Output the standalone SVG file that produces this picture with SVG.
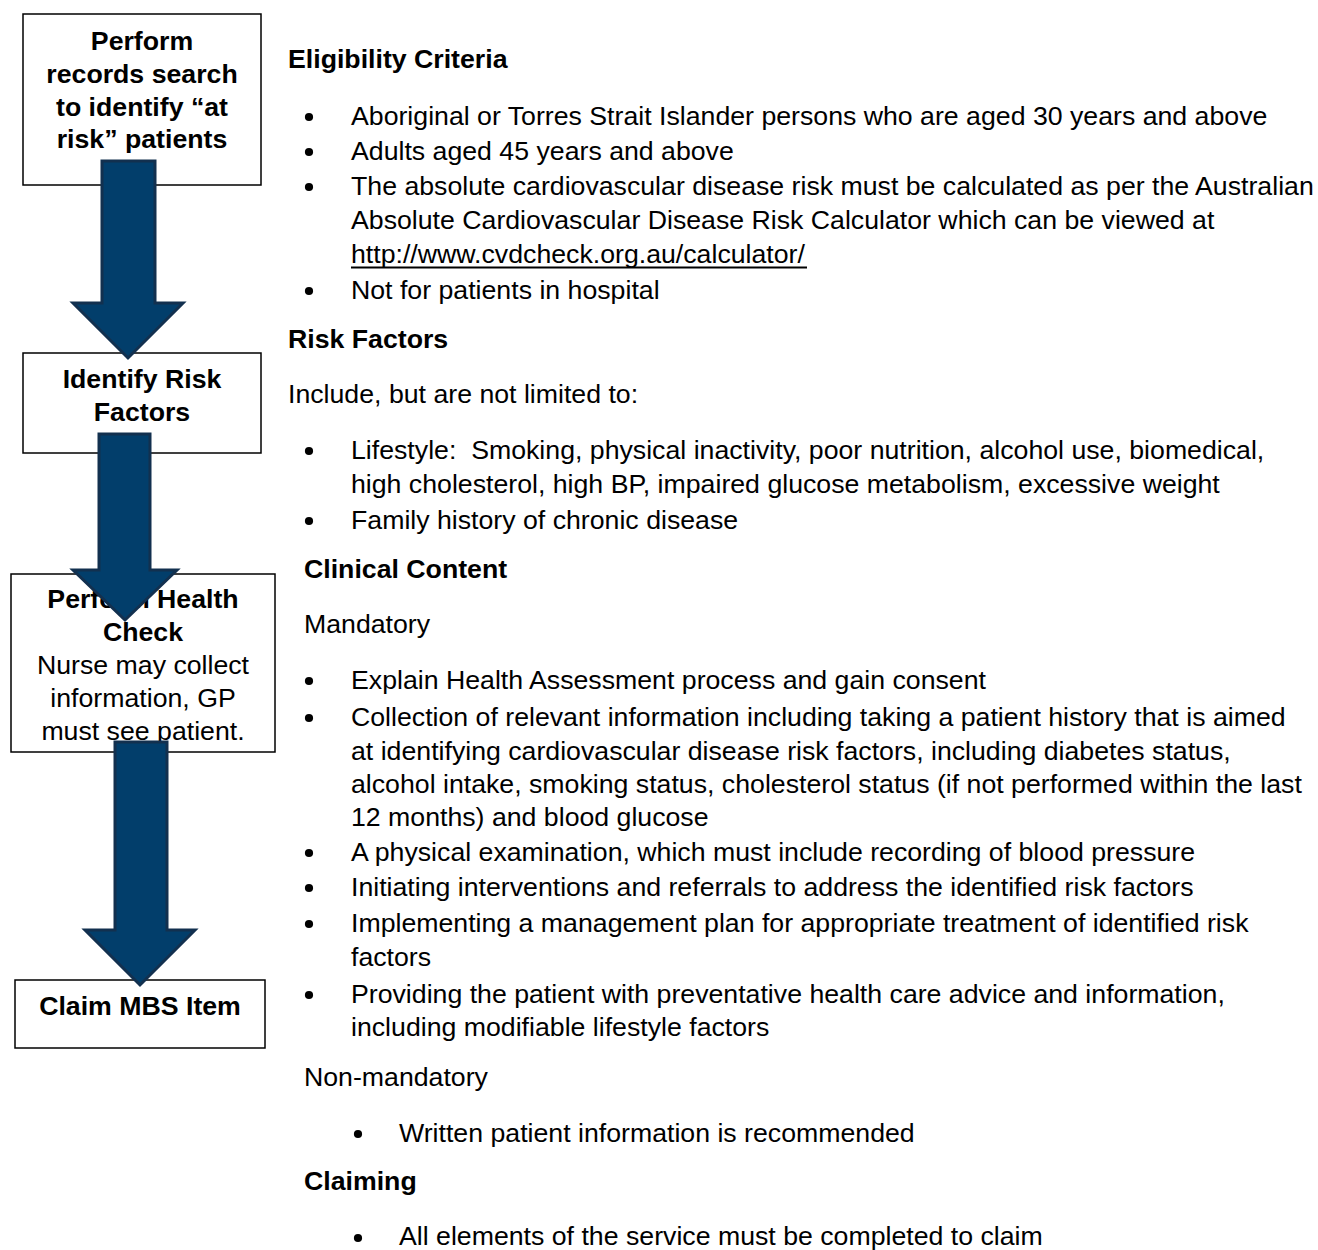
<svg xmlns="http://www.w3.org/2000/svg" width="1318" height="1250" viewBox="0 0 1318 1250">
<defs>
<circle id="dot" r="4.1" fill="#000"/>
</defs>
<style>
.box{fill:#fff;stroke:#000;stroke-width:1.5}
.arrow{fill:#023e6b;stroke:#12304f;stroke-width:3;stroke-linejoin:miter}
text{font-family:"Liberation Sans",Arial,sans-serif;font-size:26.7px;fill:#000}
.b{font-weight:bold}
.c{text-anchor:middle}
</style>
<rect width="1318" height="1250" fill="#fff"/>
<g id="node-records-search">
<rect class="box" x="23" y="14" width="238" height="171"/>
<text class="b c" x="142" y="50">Perform</text>
<text class="b c" x="142" y="83">records search</text>
<text class="b c" x="142" y="116">to identify “at</text>
<text class="b c" x="142" y="148">risk” patients</text>
</g>
<g id="node-identify-risk">
<rect class="box" x="23" y="353" width="238" height="100"/>
<text class="b c" x="142" y="388">Identify Risk</text>
<text class="b c" x="142" y="421">Factors</text>
</g>
<g id="node-health-check">
<rect class="box" x="11" y="574" width="264" height="178"/>
<text class="b c" x="143" y="608">Perform Health</text>
<text class="b c" x="143" y="641">Check</text>
<text class="c" x="143" y="674">Nurse may collect</text>
<text class="c" x="143" y="707">information, GP</text>
<text class="c" x="143" y="740">must see patient.</text>
</g>
<g id="node-claim">
<rect class="box" x="15" y="980" width="250" height="68"/>
<text class="b c" x="140" y="1015">Claim MBS Item</text>
</g>
<g id="connectors">
<polygon class="arrow" points="102,161 155,161 155,303 183,303 128,358 73,303 102,303"/>
<polygon class="arrow" points="99,434 150,434 150,570 177,570 125,620 73,570 99,570"/>
<polygon class="arrow" points="115,742 167,742 167,930 195,930 140,985 85,930 115,930"/>
</g>
<g id="text-panel">
<text class="b" x="288" y="68">Eligibility Criteria</text>
<use href="#dot" x="309" y="117"/><text x="351" y="125">Aboriginal or Torres Strait Islander persons who are aged 30 years and above</text>
<use href="#dot" x="309" y="152"/><text x="351" y="160">Adults aged 45 years and above</text>
<use href="#dot" x="309" y="187"/><text x="351" y="195">The absolute cardiovascular disease risk must be calculated as per the Australian</text>
<text x="351" y="229">Absolute Cardiovascular Disease Risk Calculator which can be viewed at</text>
<text x="351" y="263">http://www.cvdcheck.org.au/calculator/</text>
<line x1="351" y1="267.5" x2="807" y2="267.5" stroke="#000" stroke-width="1.8"/>
<use href="#dot" x="309" y="291"/><text x="351" y="299">Not for patients in hospital</text>
<text class="b" x="288" y="348">Risk Factors</text>
<text x="288" y="403">Include, but are not limited to:</text>
<use href="#dot" x="309" y="451"/><text x="351" y="459">Lifestyle:&#160; Smoking, physical inactivity, poor nutrition, alcohol use, biomedical,</text>
<text x="351" y="493">high cholesterol, high BP, impaired glucose metabolism, excessive weight</text>
<use href="#dot" x="309" y="521"/><text x="351" y="529">Family history of chronic disease</text>
<text class="b" x="304" y="578">Clinical Content</text>
<text x="304" y="633">Mandatory</text>
<use href="#dot" x="309" y="681"/><text x="351" y="689">Explain Health Assessment process and gain consent</text>
<use href="#dot" x="309" y="718"/><text x="351" y="726">Collection of relevant information including taking a patient history that is aimed</text>
<text x="351" y="760">at identifying cardiovascular disease risk factors, including diabetes status,</text>
<text x="351" y="793">alcohol intake, smoking status, cholesterol status (if not performed within the last</text>
<text x="351" y="826">12 months) and blood glucose</text>
<use href="#dot" x="309" y="853"/><text x="351" y="861">A physical examination, which must include recording of blood pressure</text>
<use href="#dot" x="309" y="888"/><text x="351" y="896">Initiating interventions and referrals to address the identified risk factors</text>
<use href="#dot" x="309" y="924"/><text x="351" y="932">Implementing a management plan for appropriate treatment of identified risk</text>
<text x="351" y="966">factors</text>
<use href="#dot" x="309" y="995"/><text x="351" y="1003">Providing the patient with preventative health care advice and information,</text>
<text x="351" y="1036">including modifiable lifestyle factors</text>
<text x="304" y="1086">Non-mandatory</text>
<use href="#dot" x="358" y="1134"/><text x="399" y="1142">Written patient information is recommended</text>
<text class="b" x="304" y="1190">Claiming</text>
<use href="#dot" x="358" y="1238"/><text x="399" y="1245">All elements of the service must be completed to claim</text>
</g>
</svg>
